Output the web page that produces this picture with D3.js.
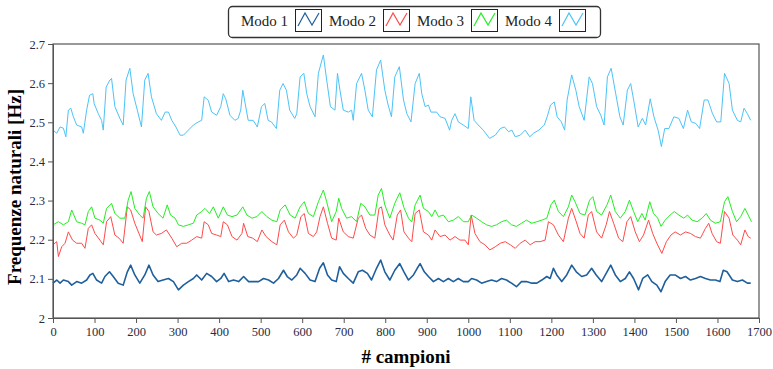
<!DOCTYPE html>
<html>
<head>
<meta charset="utf-8">
<script src="https://cdn.jsdelivr.net/npm/d3@7"></script>
<style>
  body { margin: 0; background: #fff; }
  text { font-family: "Liberation Serif", "DejaVu Serif", serif; }
</style>
</head>
<body>
<svg id="chart" width="773" height="369"></svg>
<script>
// values, [sample, Hz]
const seriesNames = ["Modo 1", "Modo 2", "Modo 3", "Modo 4"];
const xTicks = [0,100,200,300,400,500,600,700,800,900,1000,1100,1200,1300,1400,1500,1600,1700];
const yTicks = [2, 2.1, 2.2, 2.3, 2.4, 2.5, 2.6, 2.7];

const modo1 = [[0,2.089],[9,2.097],[17,2.089],[25,2.097],[37,2.093],[45,2.084],[57,2.093],[69,2.089],[81,2.097],[89,2.110],[96,2.114],[105,2.097],[117,2.089],[125,2.106],[136,2.118],[145,2.106],[157,2.089],[169,2.084],[179,2.118],[187,2.135],[197,2.110],[209,2.089],[221,2.110],[231,2.135],[241,2.110],[253,2.093],[265,2.097],[278,2.101],[290,2.093],[302,2.072],[314,2.084],[326,2.093],[338,2.101],[346,2.110],[358,2.097],[370,2.114],[382,2.106],[394,2.093],[404,2.101],[412,2.114],[423,2.093],[435,2.097],[447,2.093],[459,2.106],[471,2.093],[483,2.093],[495,2.093],[507,2.101],[519,2.097],[531,2.089],[543,2.101],[555,2.122],[564,2.106],[575,2.097],[587,2.110],[595,2.127],[607,2.114],[619,2.097],[631,2.093],[642,2.127],[651,2.141],[661,2.110],[671,2.097],[682,2.093],[690,2.131],[699,2.114],[711,2.101],[723,2.089],[735,2.118],[745,2.122],[757,2.114],[767,2.097],[779,2.127],[789,2.148],[799,2.118],[811,2.097],[823,2.122],[835,2.139],[845,2.118],[856,2.097],[868,2.110],[877,2.127],[884,2.139],[894,2.118],[904,2.106],[916,2.093],[928,2.101],[940,2.093],[952,2.101],[964,2.093],[976,2.101],[988,2.093],[1000,2.093],[1008,2.101],[1020,2.097],[1032,2.089],[1044,2.093],[1056,2.097],[1068,2.093],[1080,2.101],[1092,2.097],[1104,2.089],[1116,2.080],[1128,2.093],[1140,2.093],[1153,2.089],[1165,2.089],[1177,2.097],[1189,2.106],[1197,2.101],[1205,2.127],[1213,2.110],[1225,2.093],[1237,2.110],[1249,2.135],[1260,2.118],[1273,2.106],[1285,2.110],[1297,2.127],[1308,2.110],[1321,2.093],[1334,2.118],[1343,2.135],[1354,2.110],[1366,2.093],[1378,2.101],[1388,2.118],[1398,2.101],[1410,2.072],[1420,2.101],[1432,2.110],[1442,2.093],[1454,2.084],[1464,2.067],[1474,2.093],[1486,2.110],[1498,2.110],[1511,2.101],[1523,2.106],[1535,2.097],[1547,2.101],[1559,2.106],[1571,2.101],[1583,2.097],[1595,2.097],[1606,2.093],[1614,2.122],[1623,2.118],[1636,2.097],[1648,2.093],[1660,2.097],[1672,2.089],[1680,2.089]];

const modo2 = [[0,2.187],[9,2.195],[13,2.157],[21,2.182],[29,2.191],[37,2.220],[47,2.199],[57,2.191],[69,2.191],[77,2.178],[85,2.229],[93,2.238],[101,2.216],[113,2.199],[121,2.187],[129,2.246],[139,2.259],[149,2.212],[159,2.204],[169,2.191],[179,2.284],[187,2.276],[197,2.242],[207,2.216],[215,2.195],[223,2.284],[231,2.272],[241,2.220],[249,2.212],[261,2.216],[273,2.225],[286,2.204],[298,2.182],[310,2.191],[322,2.191],[334,2.199],[346,2.208],[358,2.204],[364,2.246],[374,2.238],[382,2.216],[394,2.212],[404,2.208],[410,2.246],[420,2.238],[431,2.208],[443,2.199],[455,2.216],[459,2.242],[469,2.208],[481,2.204],[492,2.195],[503,2.225],[513,2.208],[527,2.195],[539,2.187],[547,2.238],[557,2.250],[567,2.220],[579,2.204],[587,2.212],[597,2.259],[605,2.267],[615,2.216],[627,2.208],[635,2.220],[643,2.259],[651,2.284],[661,2.242],[671,2.204],[682,2.199],[688,2.255],[699,2.220],[711,2.208],[723,2.204],[735,2.255],[743,2.263],[753,2.229],[763,2.212],[775,2.204],[785,2.280],[791,2.284],[799,2.238],[811,2.212],[819,2.199],[829,2.263],[837,2.276],[845,2.220],[856,2.204],[864,2.195],[872,2.267],[882,2.276],[892,2.220],[904,2.212],[912,2.199],[920,2.225],[932,2.208],[944,2.212],[956,2.199],[968,2.208],[980,2.199],[992,2.199],[1000,2.187],[1007,2.263],[1016,2.216],[1028,2.195],[1040,2.187],[1052,2.174],[1065,2.182],[1077,2.191],[1089,2.195],[1101,2.187],[1113,2.178],[1125,2.191],[1137,2.199],[1149,2.187],[1161,2.195],[1173,2.195],[1185,2.199],[1193,2.246],[1205,2.238],[1217,2.212],[1229,2.195],[1241,2.255],[1249,2.280],[1260,2.246],[1269,2.216],[1279,2.204],[1289,2.263],[1297,2.272],[1309,2.220],[1321,2.204],[1332,2.238],[1340,2.272],[1350,2.242],[1362,2.204],[1372,2.195],[1382,2.246],[1391,2.259],[1402,2.220],[1412,2.195],[1422,2.212],[1434,2.250],[1444,2.216],[1454,2.191],[1466,2.165],[1477,2.195],[1488,2.212],[1498,2.220],[1511,2.212],[1523,2.220],[1535,2.216],[1547,2.208],[1559,2.204],[1571,2.229],[1579,2.242],[1587,2.216],[1598,2.195],[1607,2.191],[1617,2.272],[1628,2.255],[1637,2.212],[1648,2.199],[1656,2.187],[1666,2.225],[1674,2.208],[1680,2.204]];

const modo3 = [[0,2.238],[13,2.246],[25,2.238],[37,2.246],[45,2.276],[57,2.246],[69,2.242],[77,2.238],[85,2.272],[93,2.284],[101,2.255],[113,2.250],[121,2.242],[129,2.280],[141,2.293],[149,2.267],[161,2.255],[173,2.255],[181,2.301],[188,2.323],[197,2.280],[209,2.263],[217,2.255],[225,2.306],[232,2.323],[241,2.284],[253,2.267],[265,2.255],[275,2.289],[283,2.263],[294,2.255],[302,2.238],[314,2.234],[326,2.238],[338,2.242],[346,2.263],[358,2.272],[366,2.280],[377,2.267],[386,2.284],[398,2.255],[410,2.284],[420,2.263],[431,2.259],[443,2.263],[457,2.284],[467,2.263],[479,2.255],[491,2.259],[503,2.272],[515,2.259],[527,2.250],[539,2.246],[547,2.276],[559,2.289],[571,2.263],[583,2.255],[595,2.284],[605,2.297],[615,2.267],[627,2.259],[639,2.297],[651,2.327],[659,2.297],[671,2.246],[682,2.272],[688,2.306],[695,2.280],[707,2.255],[719,2.259],[731,2.246],[741,2.293],[751,2.284],[763,2.263],[775,2.263],[783,2.314],[791,2.331],[799,2.289],[811,2.255],[823,2.293],[835,2.320],[845,2.282],[856,2.255],[864,2.246],[872,2.289],[884,2.314],[892,2.280],[904,2.272],[912,2.259],[920,2.276],[928,2.259],[940,2.263],[952,2.246],[964,2.250],[976,2.259],[988,2.246],[1000,2.246],[1008,2.263],[1020,2.255],[1032,2.246],[1044,2.238],[1056,2.234],[1068,2.238],[1080,2.246],[1092,2.250],[1104,2.238],[1116,2.234],[1128,2.242],[1140,2.250],[1153,2.242],[1165,2.246],[1177,2.250],[1189,2.255],[1199,2.289],[1207,2.301],[1217,2.272],[1229,2.259],[1241,2.284],[1249,2.314],[1257,2.297],[1269,2.267],[1281,2.263],[1292,2.301],[1300,2.310],[1309,2.272],[1321,2.263],[1334,2.289],[1343,2.314],[1354,2.272],[1366,2.255],[1378,2.272],[1388,2.301],[1398,2.272],[1408,2.246],[1418,2.267],[1426,2.250],[1437,2.297],[1446,2.267],[1456,2.255],[1464,2.234],[1474,2.250],[1486,2.263],[1496,2.272],[1507,2.263],[1519,2.255],[1528,2.263],[1539,2.250],[1551,2.246],[1563,2.255],[1573,2.267],[1583,2.250],[1595,2.242],[1607,2.246],[1617,2.297],[1625,2.310],[1636,2.272],[1646,2.246],[1656,2.259],[1666,2.280],[1674,2.263],[1682,2.246]];

const modo4 = [[0,2.480],[9,2.472],[17,2.488],[25,2.485],[31,2.463],[37,2.531],[43,2.536],[49,2.514],[57,2.493],[69,2.488],[73,2.472],[81,2.531],[88,2.569],[96,2.573],[99,2.548],[109,2.522],[117,2.505],[121,2.480],[128,2.590],[137,2.608],[141,2.612],[149,2.540],[161,2.510],[169,2.493],[176,2.608],[185,2.638],[193,2.573],[203,2.531],[213,2.488],[221,2.608],[229,2.625],[237,2.565],[249,2.522],[261,2.505],[270,2.526],[278,2.526],[286,2.505],[296,2.488],[306,2.467],[314,2.467],[326,2.480],[338,2.493],[350,2.501],[358,2.505],[364,2.565],[374,2.556],[382,2.526],[394,2.518],[404,2.540],[410,2.573],[416,2.560],[426,2.518],[438,2.505],[446,2.510],[452,2.531],[457,2.582],[462,2.552],[470,2.505],[482,2.505],[492,2.488],[502,2.540],[510,2.548],[518,2.505],[526,2.501],[538,2.484],[546,2.582],[554,2.599],[562,2.582],[570,2.531],[582,2.510],[587,2.522],[595,2.616],[604,2.625],[611,2.573],[619,2.540],[631,2.514],[639,2.625],[651,2.672],[659,2.608],[668,2.540],[679,2.531],[685,2.625],[691,2.582],[699,2.531],[711,2.526],[719,2.531],[723,2.505],[731,2.599],[743,2.625],[751,2.582],[759,2.531],[769,2.514],[779,2.634],[789,2.659],[799,2.582],[807,2.544],[815,2.514],[823,2.616],[834,2.642],[844,2.557],[852,2.522],[862,2.501],[872,2.599],[882,2.625],[888,2.573],[896,2.540],[904,2.544],[910,2.526],[924,2.526],[932,2.514],[944,2.510],[955,2.480],[960,2.505],[968,2.522],[976,2.501],[988,2.493],[1000,2.484],[1006,2.565],[1014,2.505],[1024,2.493],[1036,2.480],[1051,2.459],[1065,2.467],[1077,2.484],[1087,2.488],[1097,2.476],[1105,2.480],[1113,2.463],[1125,2.467],[1137,2.480],[1148,2.463],[1157,2.472],[1170,2.480],[1183,2.493],[1190,2.514],[1198,2.544],[1207,2.552],[1214,2.514],[1224,2.501],[1232,2.480],[1238,2.557],[1249,2.621],[1259,2.582],[1267,2.540],[1279,2.505],[1291,2.616],[1299,2.599],[1309,2.540],[1319,2.518],[1327,2.493],[1335,2.616],[1344,2.638],[1355,2.573],[1365,2.514],[1373,2.493],[1383,2.582],[1391,2.599],[1399,2.552],[1409,2.488],[1419,2.510],[1427,2.493],[1438,2.560],[1447,2.514],[1457,2.480],[1465,2.438],[1473,2.484],[1483,2.484],[1495,2.514],[1507,2.510],[1518,2.484],[1528,2.531],[1537,2.501],[1548,2.497],[1557,2.484],[1568,2.557],[1577,2.557],[1588,2.522],[1598,2.501],[1608,2.501],[1617,2.625],[1628,2.599],[1636,2.531],[1648,2.505],[1656,2.501],[1664,2.536],[1672,2.522],[1680,2.505]];

const colors = ["#1f5f9c", "#ff4a4a", "#22ee22", "#4cc3f7"];
const widths = [1.6, 1, 1, 1];

const svg = d3.select("#chart");
const margin = {top: 44, right: 14, bottom: 51, left: 53};
const W = 773, H = 369;

const x = d3.scaleLinear().domain([0, 1700]).range([margin.left, W - margin.right]);
const y = d3.scaleLinear().domain([2, 2.7]).range([H - margin.bottom, margin.top]);

// lines
const line = d3.line().x(d => x(d[0])).y(d => y(d[1]));
[modo1, modo2, modo3, modo4].forEach((s, i) => {
  svg.append("path")
    .datum(s)
    .attr("fill", "none")
    .attr("stroke", colors[i])
    .attr("stroke-width", widths[i])
    .attr("stroke-linejoin", "round")
    .attr("d", line);
});

// frame
svg.append("rect")
  .attr("x", x(0)).attr("y", y(2.7))
  .attr("width", x(1700) - x(0)).attr("height", y(2) - y(2.7))
  .attr("fill", "none").attr("stroke", "#555").attr("stroke-width", 1.2);

// axes
const xAxis = svg.append("g")
  .attr("transform", "translate(0," + y(2) + ")")
  .call(d3.axisBottom(x).tickValues(xTicks).tickSize(5).tickPadding(4).tickFormat(d3.format("d")));
const yAxis = svg.append("g")
  .attr("transform", "translate(" + x(0) + ",0)")
  .call(d3.axisLeft(y).tickValues(yTicks).tickSize(5).tickPadding(3).tickFormat(d => d === 2 ? "2" : d3.format(".1f")(d)));
[xAxis, yAxis].forEach(g => {
  g.select(".domain").attr("stroke", "#555");
  g.selectAll(".tick line").attr("stroke", "#555");
  g.selectAll(".tick text")
    .style("font-family", '"Liberation Serif", serif')
    .style("font-size", "12.5px")
    .attr("fill", "#2a2a44");
});

// axis titles
svg.append("text")
  .attr("x", 406).attr("y", 363)
  .attr("text-anchor", "middle")
  .style("font-size", "19px").style("font-weight", "bold")
  .text("# campioni");
svg.append("text")
  .attr("transform", "translate(21,187) rotate(-90)")
  .attr("text-anchor", "middle")
  .style("font-size", "19px").style("font-weight", "bold")
  .text("Frequenze naturali [Hz]");

// legend
const leg = svg.append("g");
leg.append("rect")
  .attr("x", 228.5).attr("y", 6.5).attr("width", 372).attr("height", 31).attr("rx", 4)
  .attr("fill", "#fff").attr("stroke", "#333").attr("stroke-width", 1.3);
seriesNames.forEach((name, i) => {
  const ox = 241 + i * 88;
  leg.append("text")
    .attr("x", ox).attr("y", 26)
    .style("font-size", "15px").attr("fill", "#222")
    .text(name);
  leg.append("rect")
    .attr("x", ox + 54.5).attr("y", 9.5).attr("width", 26).attr("height", 22)
    .attr("fill", "#fff").attr("stroke", "#222").attr("stroke-width", 1);
  leg.append("path")
    .attr("d", d3.line()([[ox + 57, 26], [ox + 64, 13], [ox + 71, 25], [ox + 78, 13]]))
    .attr("fill", "none").attr("stroke", colors[i]).attr("stroke-width", 1.2);
});
</script>
</body>
</html>
